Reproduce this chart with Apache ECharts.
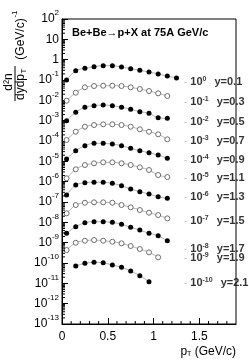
<!DOCTYPE html>
<html><head><meta charset="utf-8">
<script src="https://cdn.jsdelivr.net/npm/echarts@6/dist/echarts.min.js"></script>
<style>html,body{margin:0;padding:0;background:#fff;}#c{width:249px;height:361px;}</style>
</head><body><div id="c"></div>
<script>
// ---- data ----
const pT = [0.05,0.15,0.25,0.35,0.45,0.55,0.65,0.75,0.85,0.95,1.05,1.15,1.25];
const rapidity = ['0.1','0.3','0.5','0.7','0.9','1.1','1.3','1.5','1.7','1.9','2.1'];
const scaleExp = [0,-1,-2,-3,-4,-5,-6,-7,-8,-9,-10];
const filled = [true,false,true,false,true,false,true,false,true,false,true];
const y01 = [0.10,0.286,0.376,0.45,0.505,0.505,0.435,0.359,0.30,0.247,0.197,0.157,0.125];
const y03 = [0.096,0.237,0.437,0.506,0.524,0.524,0.506,0.437,0.36,0.287,0.221,0.163];
const y05 = [0.10,0.258,0.454,0.543,0.589,0.543,0.454,0.361,0.276,0.23,0.14,0.13];
const y07 = [0.112,0.286,0.504,0.611,0.661,0.661,0.611,0.504,0.376,0.286,0.213,0.121];
const y09 = [0.13,0.333,0.586,0.769,0.769,0.71,0.586,0.437,0.333,0.265,0.204,0.141];
const y11 = [0.146,0.405,0.659,0.798,0.894,0.894,0.798,0.659,0.507,0.374,0.212,0.169];
const y13 = [0.22,0.684,0.887,0.929,0.929,0.828,0.631,0.435,0.32,0.247,0.182,0.151];
const y15 = [0.277,0.71,0.92,0.964,0.964,0.92,0.71,0.547,0.403,0.297,0.229,0.157];
const y17 = [0.288,0.608,0.955,1.07,1.07,1.0,0.798,0.568,0.418,0.288,0.219,0.124];
const y19 = [0.434,0.99,1.245,1.346,1.245,1.11,0.927,0.683,0.486,0.334,0.19];
const y21 = [null,0.71,0.962,1.076,1.03,0.794,0.612,0.403,0.236,0.12];
const spectra = [y01,y03,y05,y07,y09,y11,y13,y15,y17,y19,y21];
const labelAnchorY = [8e-2,8.3e-3,8.9e-4,1e-4,1.16e-5,1.5e-6,1.76e-7,1.16e-8,4.9e-10,1.75e-10,1.03e-11];
const labelAnchorX = 1.33;
const yTickExp = [2,1,0,-1,-2,-3,-4,-5,-6,-7,-8,-9,-10,-11,-12,-13];
const xTicks = ['0','0.5','1','1.5'];

// ---- chart ----
const FONT = '"Liberation Sans", Arial, sans-serif';
const chart = echarts.init(document.getElementById('c'), null, {renderer:'canvas'});

const series = [];
spectra.forEach((vals, i) => {
  const f = Math.pow(10, scaleExp[i]);
  const data = [];
  vals.forEach((v, j) => { if (v !== null) data.push([pT[j], v * f]); });
  series.push({
    type: 'line', data, smooth: 0.35, z: 3,
    symbol: 'circle', symbolSize: 5, showSymbol: true,
    lineStyle: {color: '#b0b0b0', width: 1},
    itemStyle: filled[i] ? {color: '#000', borderColor: '#000', borderWidth: 0}
                         : {color: '#fff', borderColor: '#6e6e6e', borderWidth: 1},
    emphasis: {disabled: true}, animation: false
  });
});

// right-hand labels
series.push({
  type: 'scatter', symbol: 'circle', symbolSize: 1, z: 5, animation: false, clip: false,
  itemStyle: {color: 'rgba(0,0,0,0)'},
  data: labelAnchorY.map((v, i) => ({value: [labelAnchorX, v], name: String(i)})),
  label: {
    show: true, position: 'right', distance: 0,
    formatter: p => {
      const i = +p.name;
      const e = scaleExp[i];
      return '{d|-} {b|10}{s|' + e + '}{g| }{b|y=' + rapidity[i] + '}';
    },
    rich: {
      d: {fontSize: 8, color: '#777', fontFamily: FONT, lineHeight: 9},
      b: {fontSize: 11, fontWeight: 'bold', color: '#000', fontFamily: FONT, lineHeight: 9},
      s: {fontSize: 7, fontWeight: 'bold', color: '#000', fontFamily: FONT, lineHeight: 7, padding: [0,0,6,0]},
      g: {fontSize: 11, width: 8, lineHeight: 9}
    }
  }
});

// minor ticks (log y, linear x)
const minorY = [];
for (let n = -13; n <= 1; n++) for (let k = 2; k <= 9; k++) minorY.push(['y', k * Math.pow(10, n)]);
const minorX = [];
for (let t = 1; t <= 18; t++) if (t % 5 !== 0) minorX.push(['x', t / 10]);
const minorAll = minorY.concat(minorX);
series.push({
  type: 'custom', z: 4, animation: false, silent: true,
  data: minorAll.map((d, i) => i),
  renderItem: (params, api) => {
    const kind = minorAll[params.dataIndex][0];
    const v = minorAll[params.dataIndex][1];
    let x1, y1, x2, y2;
    if (kind === 'y') {
      const p = api.coord([0, v]);
      x1 = p[0]; y1 = p[1]; x2 = p[0] + 3; y2 = p[1];
    } else {
      const p = api.coord([v, 1e-13]);
      x1 = p[0]; y1 = p[1]; x2 = p[0]; y2 = p[1] - 3;
    }
    return {type: 'line', shape: {x1, y1, x2, y2}, style: {stroke: '#000', lineWidth: 1}};
  }
});

const R90 = Math.PI / 2;
function vtext(x, y, text, size) {
  return {type: 'text', x, y, rotation: R90, z: 10,
    style: {text, font: size + 'px ' + FONT, fill: '#000', align: 'center', verticalAlign: 'middle'}};
}

const option = {
  backgroundColor: '#fff',
  animation: false,
  grid: {left: 62, right: 13, top: 19, bottom: 37, show: true, borderColor: '#000', borderWidth: 1, backgroundColor: '#fff'},
  xAxis: {
    type: 'value', min: 0, max: 1.9, interval: 0.5,
    axisLine: {lineStyle: {color: '#000', width: 1}},
    axisTick: {inside: true, length: 6, lineStyle: {color: '#000'}},
    splitLine: {show: false},
    axisLabel: {
      color: '#000', fontSize: 12, fontFamily: FONT, margin: 7, showMaxLabel: false,
      formatter: v => { const i = Math.round(v / 0.5); return Math.abs(v - i * 0.5) < 1e-6 && i < xTicks.length ? xTicks[i] : ''; }
    }
  },
  yAxis: {
    type: 'log', logBase: 10, min: 1e-13, max: 100, interval: 1,
    axisLine: {show: true, lineStyle: {color: '#000', width: 1}},
    axisTick: {inside: true, length: 6, lineStyle: {color: '#000'}},
    splitLine: {show: false},
    axisLabel: {
      color: '#000', margin: 3, fontFamily: FONT,
      formatter: v => {
        const e = Math.round(Math.log10(v));
        if (yTickExp.indexOf(e) < 0) return '';
        if (e === 0) return '{b|1}';
        if (e === 1) return '{b|10}';
        return '{b|10}{s|' + e + '}';
      },
      rich: {
        b: {fontSize: 12, color: '#000', fontFamily: FONT},
        s: {fontSize: 8, color: '#000', fontFamily: FONT, padding: [0,0,12,0]}
      }
    }
  },
  series,
  graphic: [
    {type: 'text', left: 72, top: 27, z: 10, style: {text: 'Be+Be\u2192p+X at 75A GeV/c', font: 'bold 11px ' + FONT, fill: '#000'}},
    // y-axis title: fraction d²n / dydp_T and (GeV/c)^-1, rotated
    vtext(9, 82, 'd\u00b2n', 12),
    {type: 'line', z: 10, shape: {x1: 15, y1: 66, x2: 15, y2: 101}, style: {stroke: '#000', lineWidth: 1}},
    vtext(21, 87, 'dydp', 12),
    vtext(24, 71, 'T', 8),
    vtext(21, 39, '(GeV/c)', 12),
    vtext(15, 14, '-1', 8),
    // x-axis title
    {type: 'text', right: 13, top: 345, z: 10,
      style: {text: '{a|p}{t|T}{a| (GeV/c)}',
        rich: {a: {fontSize: 12, fontFamily: FONT, color: '#000', lineHeight: 12}, t: {fontSize: 7, fontFamily: FONT, color: '#000', lineHeight: 7, padding: [6,0,0,0]}}}}
  ]
};
chart.setOption(option);
</script>
</body></html>
